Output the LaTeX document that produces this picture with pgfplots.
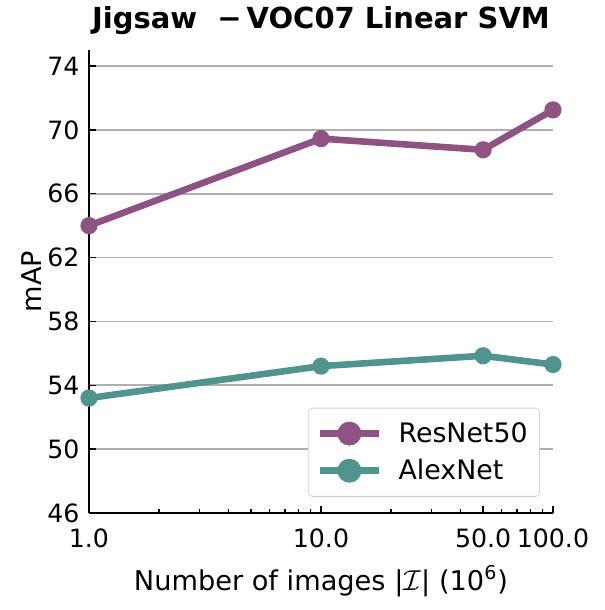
\documentclass[border=0pt]{standalone}
\usepackage{pgfplots}
\pgfplotsset{compat=1.18}
\usepackage{fontspec}
\setmainfont{DejaVu Sans}
\definecolor{resc}{HTML}{8E5383}
\definecolor{alexc}{HTML}{4F948E}
\definecolor{gridc}{HTML}{B0B0B0}
\begin{document}
\begin{tikzpicture}
\begin{axis}[
  name=ax,
  scale only axis,
  width=232pt, height=231.5pt,
  xmode=log,
  xmin=1, xmax=100,
  ymin=46, ymax=75,
  axis x line*=bottom,
  axis y line*=left,
  axis line style={line width=0.8pt, black},
  tick align=inside,
  major tick length=3.5pt,
  minor tick length=2pt,
  tick style={line width=0.7pt, black},
  xtick={1,10,50,100},
  xticklabels={1.0,10.0,50.0,100.0},
  minor xtick={2,3,4,5,6,7,8,9,20,30,40,60,70,80,90},
  ytick={46,50,54,58,62,66,70,74},
  ymajorgrids,
  major grid style={gridc, line width=0.8pt},
  /pgf/number format/assume math mode=true,
  ticklabel style={font=\fontsize{12.6}{14}\selectfont},
  xticklabel style={yshift=-4.3pt},
  yticklabel style={xshift=-1.3pt},
  label style={font=\fontsize{13.6}{16}\selectfont},
  xlabel={Number of images |$\mathcal{I}$| (10\textsuperscript{6})},
  ylabel={mAP},
  xlabel style={yshift=-2pt},
  ylabel style={yshift=-4pt},
  title={\bfseries Jigsaw\ \ −\,VOC07 Linear SVM},
  title style={font=\fontsize{14.5}{17}\selectfont, yshift=-2pt},
  legend style={at={(0.972,0.035)}, anchor=south east, draw=gridc!60, rounded corners=2pt,
     font=\fontsize{13.4}{16}\selectfont, row sep=3pt, inner xsep=4pt, inner ysep=5pt},
  legend cell align=left,
  legend image code/.code={
    \draw[#1, line width=3.3pt] (0cm,0cm) -- (1.05cm,0cm);
    \fill[#1] (0.525cm,0cm) circle (4.3pt);
    \path (1.05cm+6pt,0cm);
  },
  clip=false,
]
\addplot[resc, line width=3.3pt, mark=*, mark size=4pt, mark options={solid, fill=resc, draw=resc, line width=0.6pt}]
  coordinates {(1,64.0) (10,69.45) (50,68.75) (100,71.25)};
\addlegendentry{ResNet50}
\addplot[alexc, line width=3.3pt, mark=*, mark size=4pt, mark options={solid, fill=alexc, draw=alexc, line width=0.6pt}]
  coordinates {(1,53.2) (10,55.2) (50,55.85) (100,55.3)};
\addlegendentry{AlexNet}
\end{axis}
\path ([xshift=-44.5pt,yshift=-48.5pt]ax.south west) rectangle ([xshift=26pt,yshift=25pt]ax.north east);
\end{tikzpicture}
\end{document}
